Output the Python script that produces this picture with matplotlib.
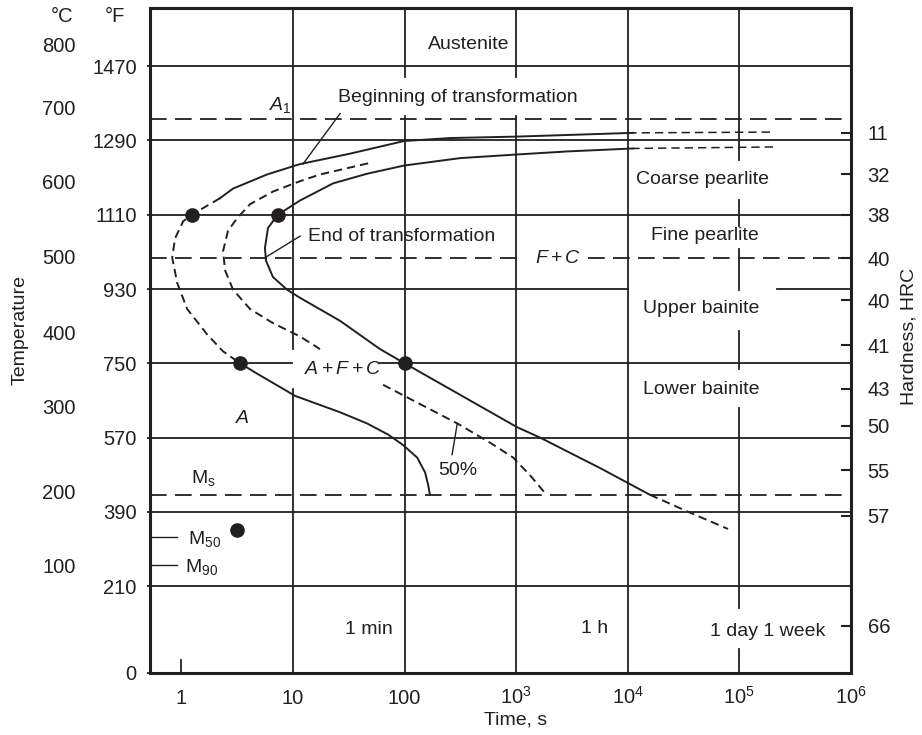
import numpy as np
import matplotlib
matplotlib.use("Agg")
import matplotlib.pyplot as plt
from matplotlib import transforms

plt.rcParams.update({
    "font.family": "Liberation Sans",
    "font.size": 14,
    "mathtext.fontset": "custom",
    "mathtext.rm": "Liberation Sans",
    "mathtext.it": "Liberation Sans:italic",
    "lines.scale_dashes": False,
})
ink = "#231f20"


def f2c(f):
    return (np.asarray(f, dtype=float) - 32) * 5 / 9


# ---- values: time in s, temperature in deg C ----
# beginning of transformation
begin_tail_t = [1.88e5, 1.12e4]
begin_tail_T = [710, 709]
begin_top_t = [1.12e4, 1040, 256, 99, 32.5, 11.6, 5.87, 2.91, 2.22]
begin_top_T = [709, 704, 702, 698, 681, 667, 653, 634, 621]
begin_nose_t = [2.22, 1.25, 1.04, 0.88, 0.83, 0.92, 1.13, 1.70, 2.37, 3.36]
begin_nose_T = [621, 599, 590, 567, 541, 507, 472, 438, 415, 399]
begin_low_t = [3.36, 4.78, 10.5, 26.5, 46.2, 71.3, 97, 130, 153, 163, 169]
begin_low_T = [399, 385, 355, 333, 318, 303, 289, 272, 252, 235, 222]

# end of transformation
end_tail_t = [2.0e5, 1.12e4]
end_tail_T = [690, 688]
end_t = [1.12e4, 2860, 1040, 315, 99, 46.2, 22.9, 11.6, 7.36, 5.98, 5.62,
         5.74, 6.63, 8.87, 11.6, 26.5, 60.4, 100, 1019, 1637, 5640, 15800]
end_T = [688, 684, 680, 675, 665, 654, 641, 618, 599, 581, 554,
         537, 515, 498, 487, 456, 418, 399, 313, 299, 258, 222]
end_low_t = [15800, 36100, 79100]
end_low_T = [222, 198, 176]

# 50 % transformed
half_top_t = [47.2, 17.5, 11.6, 6.63, 4.13, 3.16, 2.62, 2.37, 2.47, 2.91,
              4.13, 6.63, 11.6, 17.5]
half_top_T = [668, 653, 644, 630, 613, 594, 577, 550, 524, 498,
              472, 453, 435, 418]
half_low_t = [64.3, 138, 297, 586, 942, 1337, 1823]
half_low_T = [370, 344, 318, 292, 272, 248, 224]

dots_t = [1.25, 7.36, 3.36, 100, 3.16]
dots_T = [599, 599, 399, 399, 175]

a1_T, fc_T, ms_T = 727, 540, 222
m50_T, m90_T = 165, 127

# axis labelling
f_lines = [210, 390, 570, 750, 930, 1110, 1290, 1470]
f_ticks = [0] + f_lines
c_labels = [800, 700, 600, 500, 400, 300, 200, 100]
c_label_T = [825, 741, 641, 540, 438, 338, 224, 124]
time_lines = [10, 100, 1e3, 1e4, 1e5]
time_ticks = [1, 10, 100, 1e3, 1e4, 1e5, 1e6]
time_labels = ["1", "10", "100", r"$10^3$", r"$10^4$", r"$10^5$", r"$10^6$"]
hrc_labels = ["11", "32", "38", "40", "40", "41", "43", "50", "55", "57", "66"]
hrc_T = [709, 653, 599, 540, 484, 423, 365, 315, 255, 194, 46]

# breaks in the grid lines (where labels sit)
h_gaps = {930: [(1e4, 2.18e5)], 750: [(9.9, 60.4)]}
v_gaps = {10: [(365, 418)], 100: [(732, 784)], 1e3: [(732, 784)],
          1e5: [(14, 70), (339, 391), (442, 497), (553, 583), (619, 673)]}
fc_gap = (1084, 4406)

XMIN, XMAX = 10 ** -0.28, 1e6
YMIN, YMAX = -17.8, 877


def pieces(lo, hi, gaps):
    out, cur = [], lo
    for a, b in sorted(gaps):
        out.append((cur, a))
        cur = b
    out.append((cur, hi))
    return out


fig = plt.figure(figsize=(9.22, 7.35), dpi=100)
ax = fig.add_axes([150 / 922, 1 - 673 / 735, 701 / 922, 665 / 735])
ax.set_xscale("log")
ax.set_xlim(XMIN, XMAX)
ax.set_ylim(YMIN, YMAX)

glw = 1.3
# solid horizontal lines at the deg F values
for f in f_lines:
    y = float(f2c(f))
    for a, b in pieces(XMIN, XMAX, h_gaps.get(f, [])):
        ax.plot([a, b], [y, y], color=ink, lw=glw, zorder=1)
# vertical decade lines
for x in time_lines:
    for a, b in pieces(YMIN, YMAX, v_gaps.get(x, [])):
        ax.plot([x, x], [a, b], color=ink, lw=glw, zorder=1)
# dashed A1, F+C and Ms lines
dash = (0, (12, 6))
ax.plot([XMIN, XMAX], [a1_T, a1_T], color=ink, lw=glw, ls=dash, zorder=1)
ax.plot([XMIN, XMAX], [ms_T, ms_T], color=ink, lw=glw, ls=dash, zorder=1)
for a, b in pieces(XMIN, XMAX, [fc_gap]):
    ax.plot([a, b], [fc_T, fc_T], color=ink, lw=glw, ls=dash, zorder=1)
# M50 / M90 markers and inner tick at 1 s
ax.axhline(m50_T, 0, 0.0385, color=ink, lw=1.0)
ax.axhline(m90_T, 0, 0.0385, color=ink, lw=1.0)
ax.axvline(1, 0, 13 / 665, color=ink, lw=glw)

# transformation curves
clw = 1.4
cdash = (0, (6, 3.6))
ax.plot(begin_tail_t, begin_tail_T, color=ink, lw=1.1, ls=cdash, zorder=3)
ax.plot(begin_top_t, begin_top_T, color=ink, lw=clw, zorder=3)
ax.plot(begin_nose_t, begin_nose_T, color=ink, lw=clw, ls=cdash, zorder=3)
ax.plot(begin_low_t, begin_low_T, color=ink, lw=clw, zorder=3)
ax.plot(end_tail_t, end_tail_T, color=ink, lw=1.1, ls=cdash, zorder=3)
ax.plot(end_t, end_T, color=ink, lw=clw, zorder=3)
ax.plot(end_low_t, end_low_T, color=ink, lw=clw, ls=cdash, zorder=3)
ax.plot(half_top_t, half_top_T, color=ink, lw=clw, ls=cdash, zorder=3)
ax.plot(half_low_t, half_low_T, color=ink, lw=clw, ls=cdash, zorder=3)
ax.plot(dots_t, dots_T, "o", color=ink, ms=9.5, zorder=4)

# leader lines
ax.plot([26.5, 12.3], [735, 667], color=ink, lw=1.0)
ax.plot([11.6, 5.62], [570, 541], color=ink, lw=1.0)
ax.plot([297, 267], [318, 276], color=ink, lw=1.0)

# region labels
kw = dict(color=ink, ha="center", va="center", fontsize=14)
ax.text(378, 828, "Austenite", **kw)
ax.text(7.68, 746, r"$A_1$", **kw)
ax.text(302, 756, "Beginning of transformation", **kw)
ax.text(46300, 646, "Coarse pearlite", **kw)
ax.text(49300, 571, "Fine pearlite", **kw)
ax.text(13.7, 569, "End of transformation", color=ink, ha="left",
        va="center", fontsize=14)
ax.text(2377, 540, r"$F+C$", **kw)
ax.text(45400, 472, "Upper bainite", **kw)
ax.text(45400, 364, "Lower bainite", **kw)
ax.text(28.1, 390, r"$A+F+C$", **kw)
ax.text(3.5, 325, r"$A$", **kw)
ax.text(302, 255, "50%", **kw)
ax.text(1.57, 244, r"$\mathrm{M_s}$", **kw)
ax.text(1.15, 163, r"$\mathrm{M_{50}}$", color=ink, ha="left", va="center")
ax.text(1.08, 125, r"$\mathrm{M_{90}}$", color=ink, ha="left", va="center")
ax.text(48.1, 41, "1 min", **kw)
ax.text(5000, 42, "1 h", **kw)
ax.text(181000, 38, "1 day 1 week", **kw)

# axes styling
for s in ax.spines.values():
    s.set_linewidth(2.2)
    s.set_color(ink)
ax.set_xticks([])
ax.minorticks_off()
ax.tick_params(axis="x", which="both", length=0, labelbottom=False)
ax.set_yticks(f2c(f_ticks))
ax.set_yticklabels([str(f) for f in f_ticks])
ax.tick_params(axis="y", direction="out", length=2.5, width=1.3, pad=7,
               labelsize=14.5, colors=ink)

tx = transforms.blended_transform_factory(ax.transData, ax.transAxes)
for t, lab in zip(time_ticks, time_labels):
    ax.text(t, -0.047, lab, transform=tx, ha="center", va="baseline",
            fontsize=14.5, color=ink)

ax2 = ax.twinx()
ax2.set_ylim(YMIN, YMAX)
ax2.set_yticks(hrc_T)
ax2.set_yticklabels(hrc_labels)
ax2.tick_params(axis="y", direction="in", length=7, width=1.5, pad=12,
                labelsize=14.5, colors=ink)
for s in ax2.spines.values():
    s.set_visible(False)

ct = transforms.blended_transform_factory(fig.transFigure, ax.transData)
for c, yc in zip(c_labels, c_label_T):
    fig.text(59 / 922, yc, str(c), transform=ct, ha="center", va="center",
             fontsize=14.5, color=ink)

fig.text(62 / 922, 1 - 16 / 735, "°C", ha="center", va="center",
         fontsize=14.5, color=ink)
fig.text(115 / 922, 1 - 16 / 735, "°F", ha="center", va="center",
         fontsize=14.5, color=ink)
fig.text(20 / 922, 1 - 330 / 735, "Temperature", rotation=90, ha="center",
         va="center", fontsize=14, color=ink)
fig.text(909 / 922, 1 - 336 / 735, "Hardness, HRC", rotation=90,
         ha="center", va="center", fontsize=14, color=ink)
fig.text(516 / 922, 1 - 720 / 735, "Time, s", ha="center", va="center",
         fontsize=14, color=ink)

fig.savefig("out.png", dpi=100)
